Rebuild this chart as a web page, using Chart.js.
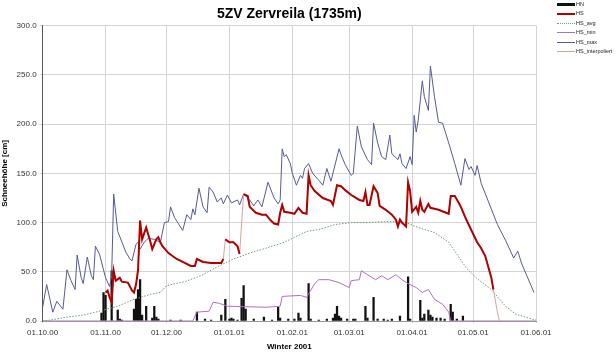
<!DOCTYPE html>
<html><head><meta charset="utf-8">
<script src="https://cdn.jsdelivr.net/npm/chart.js@4.4.1/dist/chart.umd.min.js"></script>
<style>
body{margin:0;background:#fff}
#wrap{position:relative;width:616px;height:352px}
.lg{position:absolute;left:557px;font:5.5px Arial,'Liberation Sans',sans-serif;color:#222;height:6px;line-height:6px;white-space:nowrap}
.lg i{display:inline-block;width:18px;vertical-align:middle;margin-right:1px}
</style></head><body>
<div id="wrap"><canvas id="c" width="616" height="352"></canvas></div>
<script>
// ---- data ----
const monthTicks = [0, 31, 61, 92, 123, 151, 182, 212, 243];
const monthLabels = ['01.10.00','01.11.00','01.12.00','01.01.01','01.02.01','01.03.01','01.04.01','01.05.01','01.06.01'];
const seriesNames = ['HN','HS','HS_avg','HS_min','HS_max','HS_interpoliert'];

const hsDays = [31,32,33,34,35,36,38,39,42,44, 45,46,47,48,49,51,53,54,56,57,
  58,59,62,66,70,73,75,76,79,83, 88,89,90,92,94,96,97,99,101,102,
  105,108,110,112,114,116,117,118,119,122, 124,126,128,130,131,132,134,138,142,143,
  145,147,149,152,156,158,159,160,161,163, 165,166,169,172,174,175,176,177,178,179,
  180,181,182,184,185,186,187,188,190,191, 195,200,201,203,205,206,208,211,214,216,
  218,221,222,224,225];
const hsVals = [29,31,24,19,51,41,44,40,39,31, 29,37,52,102,83,95,81,73,83,85,
  80,76,69,63,59,56,56,63,60,59, 59,63,83,80,80,76,68,129,127,116,
  110,108,108,103,99,98,110,118,111,110, 109,115,110,109,148,138,132,125,122,118,
  138,137,133,128,123,122,131,118,118,137, 130,117,113,108,103,96,103,100,98,96,
  141,132,111,116,110,122,113,111,119,115, 113,109,127,127,120,116,106,93,80,74,
  66,44,32,9,0];
const interpStarts = [89, 97, 222, 224];

const maxDays = [0,2,5,7,10,12,14,16,17,19, 20,22,24,25,26,28,31,33,34,35,
  37,41,43,44,46,47,48,50,52,55, 58,60,62,63,65,69,71,73,74,75,
  77,79,81,82,84,86,88,89,91,93, 96,97,99,102,104,106,108,111,114,116,
  117,118,119,120,122,123,125,127,128,129, 131,133,136,138,140,142,146,147,149,152,
  153,155,157,160,162,163,165,167,169,171, 172,175,176,177,179,181,182,183,184,185,
  187,188,190,191,193,195,197,200,203,206, 208,210,211,213,214,216,224,228,232,234,
  236,242];
const maxVals = [14,37,9,20,12,52,41,32,67,44, 38,65,46,42,76,68,44,35,46,129,
  91,70,63,61,78,80,73,80,84,83, 80,100,101,116,105,92,108,103,114,108,
  135,116,110,136,131,121,125,119,128,120, 123,118,129,123,117,123,116,141,125,119,
  123,175,167,169,160,150,138,148,145,155, 160,150,143,138,155,142,175,169,159,148,
  150,198,177,164,159,201,181,167,164,189, 170,164,170,160,155,167,159,209,192,204,
  244,228,214,259,228,202,201,181,160,138, 165,154,157,148,158,140,98,82,64,71,
  58,29];

const avgDays = [0,4,12,20,28,37,45,53,58,61, 70,78,86,94,102,110,119,130,136,144,
  152,160,169,174,179,185,193,200,204,209, 214,221,228,233,241,243];
const avgVals = [0,1,4,6,10,15,22,27,29,36, 40,46,55,63,69,74,80,91,93,98,
  100,100,101,101,100,95,90,80,68,53, 43,32,15,7,2,1];

const minDays = [0,74,75,76,82,84,87,91,110,117, 118,127,130,134,136,141,146,151,152,156,
  157,160,164,167,170,174,177,180,184,187, 190,193,197,200,201,243];
const minVals = [0,0,5,9,10,19,18,15,14,15, 25,26,24,38,42,42,39,34,41,42,
  51,47,42,46,42,47,42,38,34,29, 32,22,17,9,0,0];

const hnDays = [29,30,31,34,37,38,39,45,46,47, 48,49,51,54,55,56,57,63,68,76,
  80,83,88,90,92,93,94,96,98,99, 100,104,109,113,116,117,121,124,126,127,
  131,132,136,140,143,144,145,146,147,150, 153,154,159,160,163,165,168,170,172,176,
  180,181,186,187,188,190,191,192,194,196, 198,201,202,204,207];
const hnVals = [8,29,26,51,11,2,1,12,22,32, 42,6,15,3,15,4,2,1,1,9,
  2,1,6,22,2,3,2,1,23,36, 12,2,4,1,14,3,2,2,8,3,
  38,2,1,2,3,7,15,5,3,2, 2,2,15,3,24,2,2,1,2,5,
  45,2,21,3,7,11,6,4,3,3, 2,17,9,2,5];

// ---- helpers ----
const pairs = (xs, ys) => xs.map((x, i) => ({x: x, y: ys[i]}));

Chart.defaults.font.family = "Arial, 'Liberation Sans', sans-serif";

const styles = {
  HN: {color:'#111', width:3, dash:[]},
  HS: {color:'#b00000', width:2, dash:[]},
  HS_avg: {color:'#6f9f6f', width:1, dash:[1.5,1.5]},
  HS_min: {color:'#b070c0', width:1, dash:[]},
  HS_max: {color:'#565a9a', width:1, dash:[]},
  HS_interpoliert: {color:'#d9a0a0', width:1, dash:[]}
};

new Chart(document.getElementById('c'), {
  type: 'line',
  data: {datasets: [
    {label:'HS', data:pairs(hsDays,hsVals), borderColor:styles.HS.color, borderWidth:styles.HS.width,
     pointRadius:0, tension:0, order:1,
     segment:{borderColor: c => interpStarts.includes(c.p0.parsed.x) ? 'rgba(0,0,0,0)' : undefined}},
    {label:'HS_interpoliert', data:pairs(hsDays,hsVals), borderColor:styles.HS_interpoliert.color,
     borderWidth:1, pointRadius:0, tension:0, order:2},
    {label:'HS_max', data:pairs(maxDays,maxVals), borderColor:styles.HS_max.color, borderWidth:1,
     pointRadius:0, tension:0, order:3},
    {label:'HS_avg', data:pairs(avgDays,avgVals), borderColor:styles.HS_avg.color, borderWidth:1,
     borderDash:styles.HS_avg.dash, pointRadius:0, tension:0, order:4},
    {label:'HS_min', data:pairs(minDays,minVals), borderColor:styles.HS_min.color, borderWidth:1,
     pointRadius:0, tension:0, order:5},
    {type:'bar', label:'HN', data:pairs(hnDays,hnVals), backgroundColor:styles.HN.color,
     barThickness:1.6, order:10}
  ]},
  options: {
    animation:false, responsive:false,
    layout:{padding:{left:0, right:80, top:1, bottom:0}},
    plugins:{
      legend:{display:false}, tooltip:{enabled:false},
      title:{display:true, text:'5ZV Zervreila (1735m)', fullSize:false, color:'#000',
             font:{size:14, weight:'bold'}, padding:{top:5, bottom:3}}
    },
    scales:{
      x:{type:'linear', min:0, max:243, offset:false,
         afterBuildTicks: s => { s.ticks = monthTicks.map(v => ({value:v})); },
         ticks:{callback: v => monthLabels[monthTicks.indexOf(v)], font:{size:8, lineHeight:1}, color:'#333',
                maxRotation:0, autoSkip:false, padding:6},
         grid:{color:'#d4d4d4', tickLength:2, offset:false}, border:{color:'#999'},
         title:{display:true, text:'Winter 2001', color:'#000', font:{size:8, weight:'bold', lineHeight:1}, padding:{top:0, bottom:1}}},
      y:{min:0, max:300,
         ticks:{stepSize:50, callback: v => Number(v).toFixed(1), font:{size:8}, color:'#333', padding:3},
         grid:{color:'#d4d4d4', tickLength:3}, border:{color:'#555'},
         title:{display:true, text:'Schneehöhe [cm]', color:'#000', font:{size:8, weight:'bold'}, padding:{top:0, bottom:4}}}
    }
  }
});

// legend (HTML text)
const wrap = document.getElementById('wrap');
seriesNames.forEach((n, i) => {
  const d = document.createElement('div');
  d.className = 'lg';
  d.style.top = (1 + i * 9.4) + 'px';
  const st = styles[n];
  const line = document.createElement('i');
  line.style.borderTop = st.width + 'px ' + (st.dash.length ? 'dotted ' : 'solid ') + st.color;
  d.appendChild(line);
  d.appendChild(document.createTextNode(n));
  wrap.appendChild(d);
});
</script>
</body></html>
